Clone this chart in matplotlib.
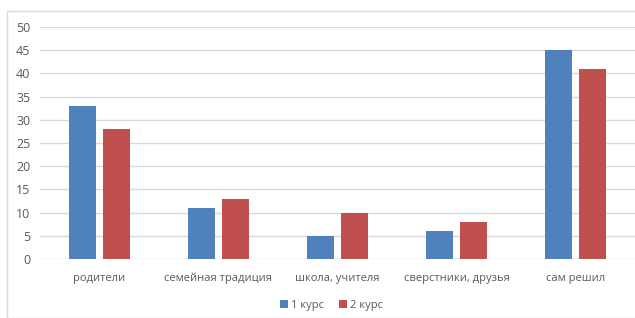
import matplotlib
matplotlib.use("Agg")
import matplotlib.pyplot as plt
import numpy as np
from matplotlib.patches import Rectangle

categories = ["родители", "семейная традиция", "школа, учителя", "сверстники, друзья", "сам решил"]
kurs1 = [33, 11, 5, 6, 45]
kurs2 = [28, 13, 10, 8, 41]
series_names = ["1 курс", "2 курс"]

plt.rcParams["font.family"] = ["Open Sans", "DejaVu Sans"]

fig = plt.figure(figsize=(6.35, 3.18), dpi=100)
fig.patches.append(Rectangle((7 / 635, 0), 1.2, 1 - 11 / 318, transform=fig.transFigure,
                             fill=False, edgecolor="#d9d9d9", linewidth=1))
ax = fig.add_axes([40 / 635, 1 - 259 / 318, 1 - 40 / 635, (259 - 27) / 318])

x = np.arange(len(categories))
w = 0.225
ax.bar(x - 0.143, kurs1, w, color="#4F81BD", label=series_names[0], zorder=3)
ax.bar(x + 0.143, kurs2, w, color="#C0504D", label=series_names[1], zorder=3)

ax.set_xlim(-0.5, len(categories) - 0.5)
ax.set_ylim(0, 50)
ax.set_yticks(range(0, 51, 5))
ax.set_xticks(x)
ax.set_xticklabels(categories)
ax.grid(axis="y", color="#d9d9d9", linewidth=1, zorder=0)
for s in ax.spines.values():
    s.set_visible(False)
ax.tick_params(length=0, labelsize=8, labelcolor="#595959")
ax.tick_params(axis="x", pad=10)
ax.tick_params(axis="y", pad=7)
for lab in ax.get_yticklabels():
    lab.set_fontsize(9)

ax.legend(loc="center", bbox_to_anchor=(0.49, -0.2), ncol=2, frameon=False,
          fontsize=8, labelcolor="#595959", handlelength=0.7, handleheight=0.7,
          handletextpad=0.3, columnspacing=1.3)

fig.savefig("out.png", dpi=100)
